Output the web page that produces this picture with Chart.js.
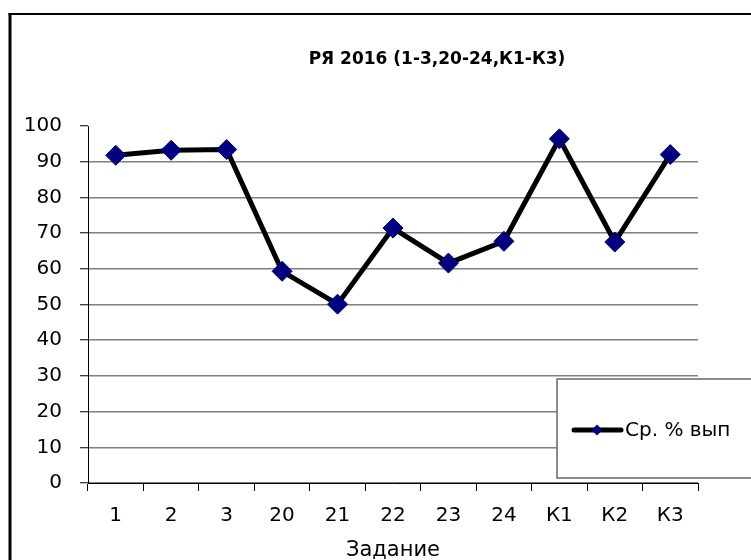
<!DOCTYPE html>
<html>
<head>
<meta charset="utf-8">
<title>РЯ 2016</title>
<script src="https://cdn.jsdelivr.net/npm/chart.js@4.4.1/dist/chart.umd.min.js"></script>
<style>
  body { margin: 0; background: #fff; }
  canvas { display: block; }
</style>
</head>
<body>
<canvas id="myChart" width="751" height="560"></canvas>
<script>
// data
const chartTitle = 'РЯ 2016 (1-3,20-24,К1-К3)';
const tasks = ['1', '2', '3', '20', '21', '22', '23', '24', 'К1', 'К2', 'К3'];
const avgPercent = [91.8, 93.2, 93.4, 59.3, 50.1, 71.4, 61.6, 67.7, 96.4, 67.5, 92.0];
const seriesName = 'Ср. % вып';
const xTitle = 'Задание';

const FONT = '"DejaVu Sans", "Liberation Sans", Arial, sans-serif';

// white page + outer frame + title
const framePlugin = {
  id: 'frame',
  beforeDraw(chart) {
    const c = chart.ctx;
    c.save();
    c.fillStyle = '#fff';
    c.fillRect(0, 0, chart.width, chart.height);
    c.strokeStyle = '#000';
    c.lineWidth = 2;
    c.beginPath();
    c.moveTo(8.5, 14);
    c.lineTo(chart.width + 5, 14);
    c.stroke();
    c.lineWidth = 3;
    c.beginPath();
    c.moveTo(10, 13);
    c.lineTo(10, chart.height + 5);
    c.stroke();
    c.fillStyle = '#000';
    c.font = 'bold 17px ' + FONT;
    c.textAlign = 'center';
    c.textBaseline = 'middle';
    c.fillText(chartTitle, 437, 60);
    c.restore();
  }
};

// legend box overlapping plot, like the original
const legendBoxPlugin = {
  id: 'legendBox',
  afterDraw(chart) {
    const c = chart.ctx;
    const ds = chart.data.datasets[0];
    c.save();
    c.fillStyle = '#fff';
    c.strokeStyle = '#666';
    c.lineWidth = 1.5;
    c.fillRect(557, 379, 220, 99);
    c.strokeRect(557, 379, 220, 99);
    c.strokeStyle = ds.borderColor;
    c.lineWidth = 5;
    c.lineCap = 'round';
    c.beginPath();
    c.moveTo(574, 430);
    c.lineTo(621, 430);
    c.stroke();
    c.fillStyle = ds.pointBackgroundColor;
    c.beginPath();
    c.moveTo(597, 424.5);
    c.lineTo(602.5, 430);
    c.lineTo(597, 435.5);
    c.lineTo(591.5, 430);
    c.closePath();
    c.fill();
    c.fillStyle = '#000';
    c.font = '20px ' + FONT;
    c.textAlign = 'left';
    c.textBaseline = 'middle';
    c.fillText(ds.label, 625, 431);
    c.restore();
  }
};

const config = {
  type: 'line',
  data: {
    labels: tasks,
    datasets: [{
      label: seriesName,
      data: avgPercent,
      borderColor: '#000',
      borderWidth: 5,
      tension: 0,
      pointStyle: 'rectRot',
      pointRadius: 10,
      pointHoverRadius: 10,
      pointBackgroundColor: '#000080',
      pointBorderColor: '#000080',
      pointBorderWidth: 1
    }]
  },
  options: {
    responsive: false,
    animation: false,
    layout: { padding: { top: 126, right: 53, left: 0, bottom: 0 } },
    plugins: {
      legend: { display: false },
      title: { display: false },
      tooltip: { enabled: false }
    },
    scales: {
      x: {
        type: 'category',
        offset: true,
        afterFit: (scale) => { scale.height = 77; },
        grid: {
          offset: true,
          drawOnChartArea: false,
          drawTicks: true,
          tickLength: 8,
          tickColor: '#000'
        },
        border: { display: true, color: '#000', width: 1 },
        ticks: {
          color: '#000',
          font: { family: FONT, size: 20 },
          padding: 13,
          maxRotation: 0,
          autoSkip: false
        },
        title: {
          display: true,
          text: xTitle,
          color: '#000',
          font: { family: FONT, size: 21, lineHeight: 0.9 },
          padding: 0
        }
      },
      y: {
        min: 0,
        max: 100,
        afterFit: (scale) => { scale.width = 88; },
        grid: {
          color: (ctx) => (ctx.tick && ctx.tick.value === 100) ? 'rgba(0,0,0,0)' : '#7f7f7f',
          lineWidth: 1.5,
          drawTicks: true,
          tickLength: 8,
          tickColor: '#000',
          tickWidth: 1
        },
        border: { display: true, color: '#000', width: 1 },
        ticks: {
          stepSize: 10,
          color: '#000',
          font: { family: FONT, size: 20 },
          padding: 18
        }
      }
    }
  },
  plugins: [framePlugin, legendBoxPlugin]
};

const myChart = new Chart(document.getElementById('myChart'), config);
</script>
</body>
</html>
